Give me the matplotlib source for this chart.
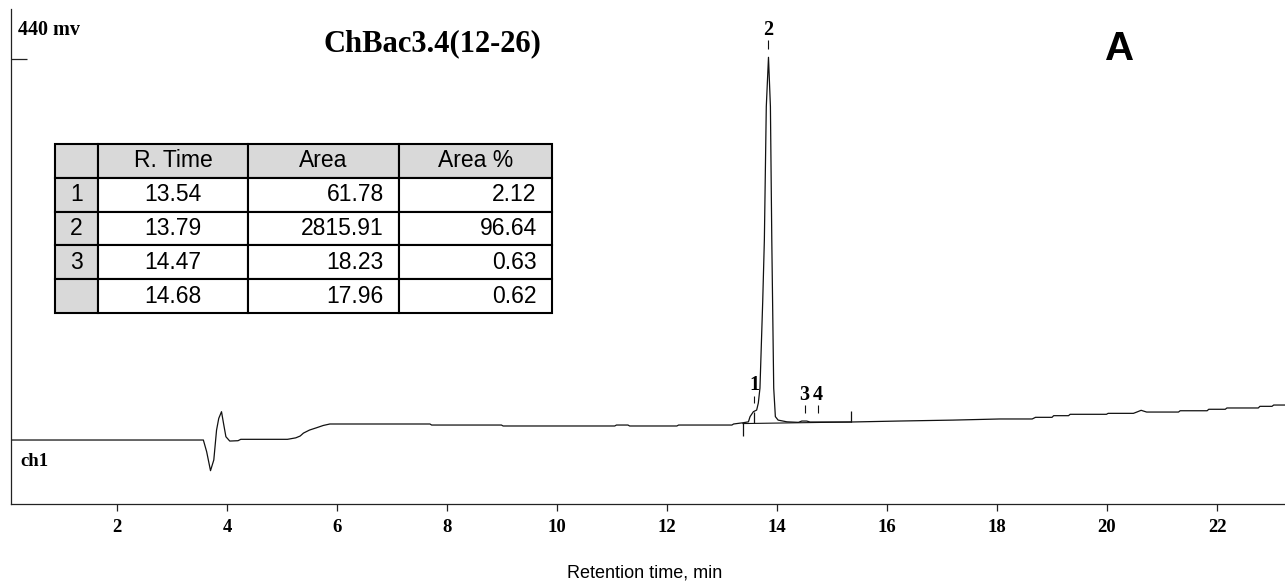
import matplotlib
matplotlib.use("Agg")
import matplotlib.pyplot as plt
from matplotlib.table import Table

# ---- data (time in min, signal in mV) ----
trace_t = [0.06, 3.57, 3.63, 3.70, 3.76, 3.81, 3.85, 3.90, 3.94, 3.98, 4.05, 4.20, 4.25,
           5.10, 5.25, 5.33, 5.39, 5.50, 5.63, 5.75, 5.87, 7.69, 7.72, 8.99, 9.02,
           11.05, 11.08, 11.29, 11.32, 12.18, 12.21, 13.18, 13.21, 13.39, 13.48, 13.51,
           13.57, 13.63, 13.66, 13.69, 13.71, 13.74, 13.77, 13.805, 13.845, 13.88,
           13.905, 13.94, 13.97, 14.02, 14.18, 14.39, 14.45, 14.54, 14.60, 15.35, 16.2,
           17.2, 18.05, 18.64, 18.70, 19.00, 19.03, 19.30, 19.33, 19.99, 20.02, 20.48,
           20.55, 20.62, 20.72, 21.30, 21.33, 21.82, 21.85, 22.15, 22.18, 22.75, 22.78,
           23.00, 23.03, 23.24]
trace_mv = [0, 0, -13.5, -35.4, -23, 11.5, 25, 32.7, 18, 3.8, -1.2, -0.8, 0.8,
            0.8, 2.5, 4.6, 8.0, 11.5, 14.2, 16.8, 18.5, 18.5, 17.3, 17.3, 16.2,
            16.2, 17.3, 17.3, 16.2, 16.2, 17.3, 17.3, 18.5, 20, 21, 27,
            32.7, 34.6, 42.7, 60, 100, 160, 231, 385, 442, 385,
            231, 60, 27, 23, 21, 20.4, 21.9, 21.9, 20.8, 20.8, 21.9,
            23, 24.3, 24.3, 26.2, 26.2, 28.1, 28.1, 29.7, 29.7, 30.8, 30.8,
            32.5, 34.3, 32.3, 32.3, 33.8, 33.8, 35.5, 35.5, 37, 37, 38.9,
            38.9, 40.4, 40.4]

# integration baseline and event marks
base_t = [13.38, 15.35]
base_mv = [19.0, 20.8]
event_t = [13.38, 13.58, 15.35]
event_lo = [4.6, 19.6, 20.8]
event_hi = [19.6, 32.3, 33.5]

# peak numbers
peak_labels = ["1", "2", "3", "4"]
peak_t = [13.59, 13.845, 14.50, 14.74]
peak_tick_lo = [42.7, 452, 31.2, 31.2]
peak_tick_hi = [50.8, 462, 40.4, 40.4]
peak_text_mv = [63.5, 473, 52, 52]

# result table
table_header = ["", "R. Time", "Area", "Area %"]
peak_no = ["1", "2", "3", ""]
r_time = ["13.54", "13.79", "14.47", "14.68"]
area = ["61.78", "2815.91", "18.23", "17.96"]
area_pct = ["2.12", "96.64", "0.63", "0.62"]

x_ticks = [2, 4, 6, 8, 10, 12, 14, 16, 18, 20, 22]

W, H = 1285, 588
serif = "Liberation Serif"
sans = "Liberation Sans"

fig = plt.figure(figsize=(W / 100, H / 100), dpi=100)
ax = fig.add_axes([10.5 / W, 84 / H, 1274.5 / W, 495 / H])

ax.plot(trace_t, trace_mv, color="#111111", lw=0.9)
ax.plot(base_t, base_mv, color="#111111", lw=0.8)
ax.vlines(event_t, event_lo, event_hi, color="#111111", lw=0.9)
ax.vlines(peak_t, peak_tick_lo, peak_tick_hi, color="#111111", lw=0.8)
for lab, t, y in zip(peak_labels, peak_t, peak_text_mv):
    ax.text(t, y, lab, ha="center", va="center", fontsize=14.5,
            fontweight="bold", family=serif)

ax.set_xlim(0.0636, 23.236)
ax.set_ylim(-73.9, 497.8)
for s in ["top", "right"]:
    ax.spines[s].set_visible(False)
for s in ["left", "bottom"]:
    ax.spines[s].set_linewidth(0.9)
    ax.spines[s].set_color("#222222")

ax.set_xticks(x_ticks)
ax.set_xticklabels([str(v) for v in x_ticks], fontsize=13.5, fontweight="bold",
                   family=serif)
ax.tick_params(axis="x", direction="out", length=5, width=0.9, pad=6,
               color="#222222")
ax.set_yticks([440])
ax.set_yticklabels([""])
ax.tick_params(axis="y", direction="in", length=11.5, width=0.9, color="#222222")

# texts
fig.text(18 / W, 1 - 30 / H, "440 mv", ha="left", va="center", fontsize=14.5,
         fontweight="bold", family=serif)
fig.text(20 / W, 1 - 462 / H, "ch1", ha="left", va="center", fontsize=13.5,
         fontweight="bold", family=serif)
fig.text(432 / W, 1 - 44 / H, "ChBac3.4(12-26)", ha="center", va="center",
         fontsize=22, fontweight="bold", family=serif)
fig.text(1120 / W, 1 - 48.5 / H, "A", ha="center", va="center", fontsize=29,
         fontweight="bold", family=sans)
fig.text(645 / W, 1 - 573 / H, "Retention time, min", ha="center", va="center",
         fontsize=13, family=sans)

# table of peaks
tax = fig.add_axes([55 / W, (H - 313) / H, (552 - 55) / W, (313 - 144) / H])
tax.axis("off")
tbl = Table(tax, bbox=[0, 0, 1, 1])
col_w = [43, 150, 151, 153]
rows = [table_header] + [list(r) for r in zip(peak_no, r_time, area, area_pct)]
gray = "#d9d9d9"
for i, row in enumerate(rows):
    for j, txt in enumerate(row):
        if i == 0 or j <= 1:
            loc = "center"
        else:
            loc = "right"
        fc = gray if (i == 0 or j == 0) else "white"
        cell = tbl.add_cell(i, j, width=col_w[j], height=1, text=txt, loc=loc,
                            facecolor=fc, edgecolor="black")
        cell.set_linewidth(1.5)
tbl.auto_set_font_size(False)
tbl.set_fontsize(16.5)
for cell in tbl.get_celld().values():
    cell.get_text().set_fontfamily(sans)
tax.add_table(tbl)

fig.savefig("out.png", dpi=100)
